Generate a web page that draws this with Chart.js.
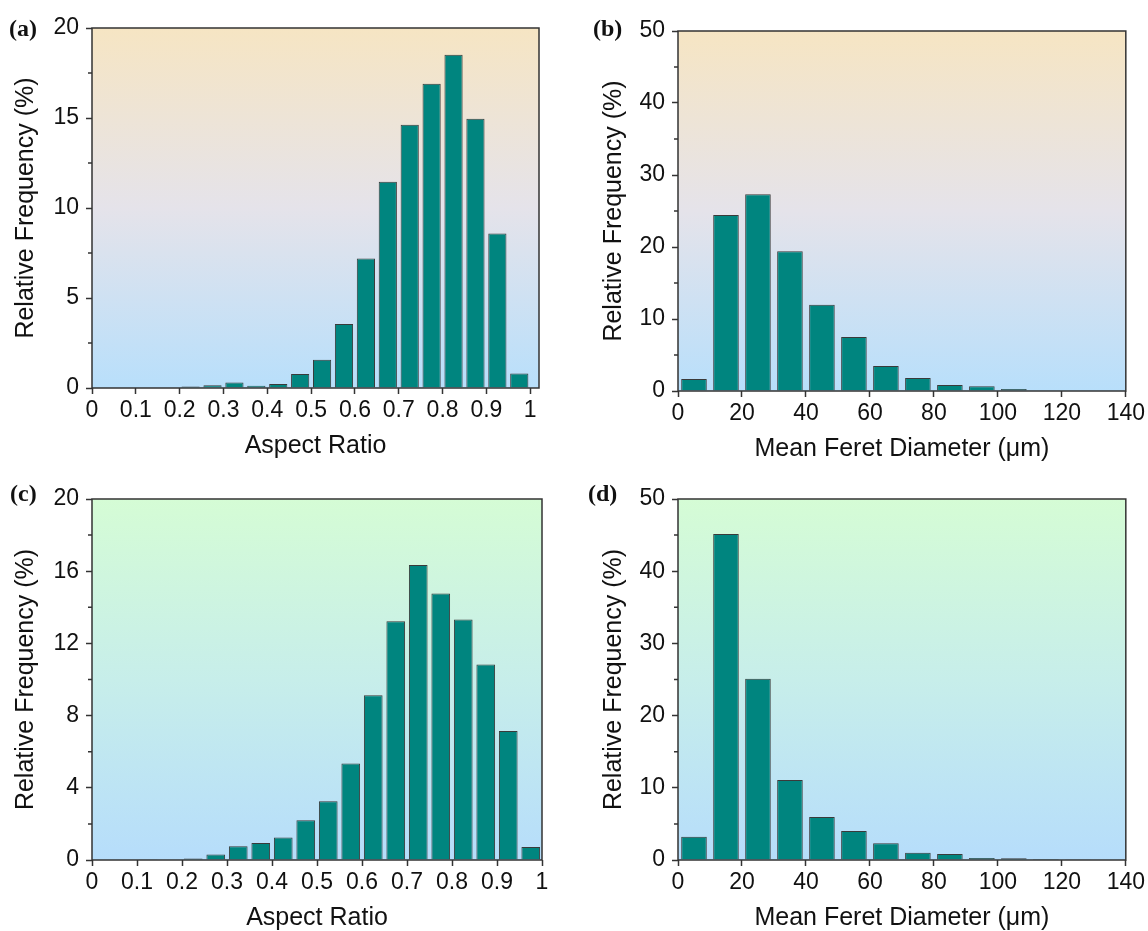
<!DOCTYPE html>
<html>
<head>
<meta charset="utf-8">
<script src="https://cdn.jsdelivr.net/npm/chart.js@4.4.1/dist/chart.umd.min.js"></script>
<style>
  html, body { margin: 0; padding: 0; background: #fff; width: 1148px; height: 931px; overflow: hidden; }
  .panel { position: absolute; }
  .tag { position: absolute; font: bold 24px "Liberation Serif", "Times New Roman", serif; color: #111; line-height: 1; }
</style>
</head>
<body>
<div class="panel" style="left:0;top:0"><canvas id="chartA" width="570" height="470"></canvas></div>
<div class="panel" style="left:570px;top:0"><canvas id="chartB" width="578" height="470"></canvas></div>
<div class="panel" style="left:0;top:470px"><canvas id="chartC" width="570" height="461"></canvas></div>
<div class="panel" style="left:570px;top:470px"><canvas id="chartD" width="578" height="461"></canvas></div>
<div class="tag" style="left:9px;top:16px">(a)</div>
<div class="tag" style="left:593px;top:16px">(b)</div>
<div class="tag" style="left:10px;top:481px">(c)</div>
<div class="tag" style="left:588px;top:481px">(d)</div>

<script>
// bin centres
const aspectBins = [0.025, 0.075, 0.125, 0.175, 0.225, 0.275, 0.325, 0.375, 0.425, 0.475,
                    0.525, 0.575, 0.625, 0.675, 0.725, 0.775, 0.825, 0.875, 0.925, 0.975];
const feretBins = [5, 15, 25, 35, 45, 55, 65, 75, 85, 95, 105, 115, 125, 135];

// relative frequency (%)
const aspectA = [0, 0, 0, 0, 0.09, 0.15, 0.31, 0.13, 0.22, 0.78,
                 1.57, 3.56, 7.2, 11.46, 14.63, 16.9, 18.52, 14.96, 8.59, 0.81];
const feretB = [1.67, 24.44, 27.31, 19.4, 11.99, 7.5, 3.47, 1.8, 0.83, 0.65, 0.28, 0, 0, 0];
const aspectC = [0, 0, 0.02, 0.03, 0.09, 0.31, 0.76, 0.94, 1.24, 2.2,
                 3.25, 5.34, 9.13, 13.23, 16.34, 14.77, 13.33, 10.83, 7.15, 0.72];
const feretD = [3.23, 45.15, 25.09, 11.09, 5.96, 4.02, 2.31, 1.02, 0.83, 0.28, 0.23, 0.14, 0.09, 0];

// tick labels
const aspectTicks = [0, 0.1, 0.2, 0.3, 0.4, 0.5, 0.6, 0.7, 0.8, 0.9, 1];
const feretTicks = [0, 20, 40, 60, 80, 100, 120, 140];
const yTicksA = [0, 5, 10, 15, 20];
const yMinorA = [2.5, 7.5, 12.5, 17.5];
const yTicksB = [0, 10, 20, 30, 40, 50];
const yMinorB = [5, 15, 25, 35, 45];
const yTicksC = [0, 4, 8, 12, 16, 20];
const yMinorC = [2, 6, 10, 14, 18];

const warmStops = ["#f6e5c3", "#e5e3ea", "#b8dffb"];
const coolStops = ["#d5fcd5", "#c7eeea", "#b6ddfb"];

const X_AXIS_H = 71;
const INK = "#333";

const frame = {
  id: "frame",
  beforeDraw(chart, args, opts) {
    const { ctx, chartArea: a } = chart;
    const g = ctx.createLinearGradient(0, a.top, 0, a.bottom);
    opts.stops.forEach((c, i) => g.addColorStop(i / (opts.stops.length - 1), c));
    ctx.save();
    ctx.fillStyle = g;
    ctx.fillRect(a.left, a.top, a.right - a.left, a.bottom - a.top);
    ctx.restore();
  },
  afterDraw(chart, args, opts) {
    const { ctx, chartArea: a } = chart;
    const y = chart.scales.y;
    ctx.save();
    ctx.strokeStyle = INK;
    ctx.lineWidth = 1.5;
    ctx.beginPath();
    opts.minor.forEach((v) => {
      const py = y.getPixelForValue(v);
      ctx.moveTo(a.left - 4, py);
      ctx.lineTo(a.left, py);
    });
    ctx.stroke();
    ctx.strokeRect(a.left, a.top, a.right - a.left, a.bottom - a.top);
    ctx.restore();
  },
};

function makeChart(id, p) {
  const canvas = document.getElementById(id);
  const W = canvas.width, H = canvas.height;
  const tickFont = { family: "'Liberation Sans', Arial, sans-serif", size: 23 };
  const titleFont = { family: "'Liberation Sans', Arial, sans-serif", size: 25, lineHeight: 1 };
  return new Chart(canvas, {
    type: "bar",
    data: {
      datasets: [{
        data: p.bins.map((x, i) => ({ x: x, y: p.values[i] })),
        backgroundColor: "#00857f",
        borderColor: "#3a3a3a",
        borderWidth: (c) => (c.raw && c.raw.y > 0 ? 1 : 0),
        barPercentage: p.barPct,
        categoryPercentage: 1,
      }],
    },
    options: {
      responsive: false,
      animation: false,
      events: [],
      layout: { padding: { left: 0, top: p.area.top, right: W - p.area.right, bottom: H - p.area.bottom - X_AXIS_H } },
      plugins: { legend: { display: false }, tooltip: { enabled: false }, frame: { stops: p.stops, minor: p.yMinor } },
      scales: {
        x: {
          type: "linear",
          offset: false,
          min: 0,
          max: p.xMax,
          border: { display: false },
          grid: { display: true, offset: false, drawOnChartArea: false, drawTicks: true, tickLength: 6, tickColor: INK, tickWidth: 1.5 },
          afterBuildTicks: (s) => { s.ticks = p.xTicks.map((v) => ({ value: v })); },
          afterFit: (s) => { s.height = X_AXIS_H; },
          ticks: { autoSkip: false, maxRotation: 0, padding: 3, color: "#111", font: tickFont, callback: (v) => String(v) },
          title: { display: true, text: p.xTitle, color: "#111", font: titleFont, padding: 0 },
        },
        y: {
          min: 0,
          max: p.yTicks[p.yTicks.length - 1],
          border: { display: false },
          grid: { display: true, drawOnChartArea: false, drawTicks: true, tickLength: 6, tickColor: INK, tickWidth: 1.5 },
          afterBuildTicks: (s) => { s.ticks = p.yTicks.map((v) => ({ value: v })); },
          afterFit: (s) => { s.width = p.area.left; },
          ticks: { padding: 7, color: "#111", font: tickFont, callback: (v) => String(v) },
          title: { display: true, text: "Relative Frequency (%)", color: "#111", font: titleFont, padding: { top: p.yTitlePad, bottom: 0 } },
        },
      },
    },
    plugins: [frame],
  });
}

makeChart("chartA", {
  bins: aspectBins, values: aspectA, xTicks: aspectTicks, xMax: 1.02, yTicks: yTicksA, yMinor: yMinorA,
  xTitle: "Aspect Ratio", stops: warmStops, barPct: 0.83, yTitlePad: 14,
  area: { left: 92, top: 28, right: 539, bottom: 388 },
});
makeChart("chartB", {
  bins: feretBins, values: feretB, xTicks: feretTicks, xMax: 140, yTicks: yTicksB, yMinor: yMinorB,
  xTitle: "Mean Feret Diameter (μm)", stops: warmStops, barPct: 0.8, yTitlePad: 32,
  area: { left: 108, top: 31, right: 556, bottom: 391 },
});
makeChart("chartC", {
  bins: aspectBins, values: aspectC, xTicks: aspectTicks, xMax: 1, yTicks: yTicksC, yMinor: yMinorC,
  xTitle: "Aspect Ratio", stops: coolStops, barPct: 0.83, yTitlePad: 14,
  area: { left: 92, top: 29, right: 542, bottom: 390 },
});
makeChart("chartD", {
  bins: feretBins, values: feretD, xTicks: feretTicks, xMax: 140, yTicks: yTicksB, yMinor: yMinorB,
  xTitle: "Mean Feret Diameter (μm)", stops: coolStops, barPct: 0.8, yTitlePad: 32,
  area: { left: 108, top: 29, right: 556, bottom: 390 },
});
</script>
</body>
</html>
